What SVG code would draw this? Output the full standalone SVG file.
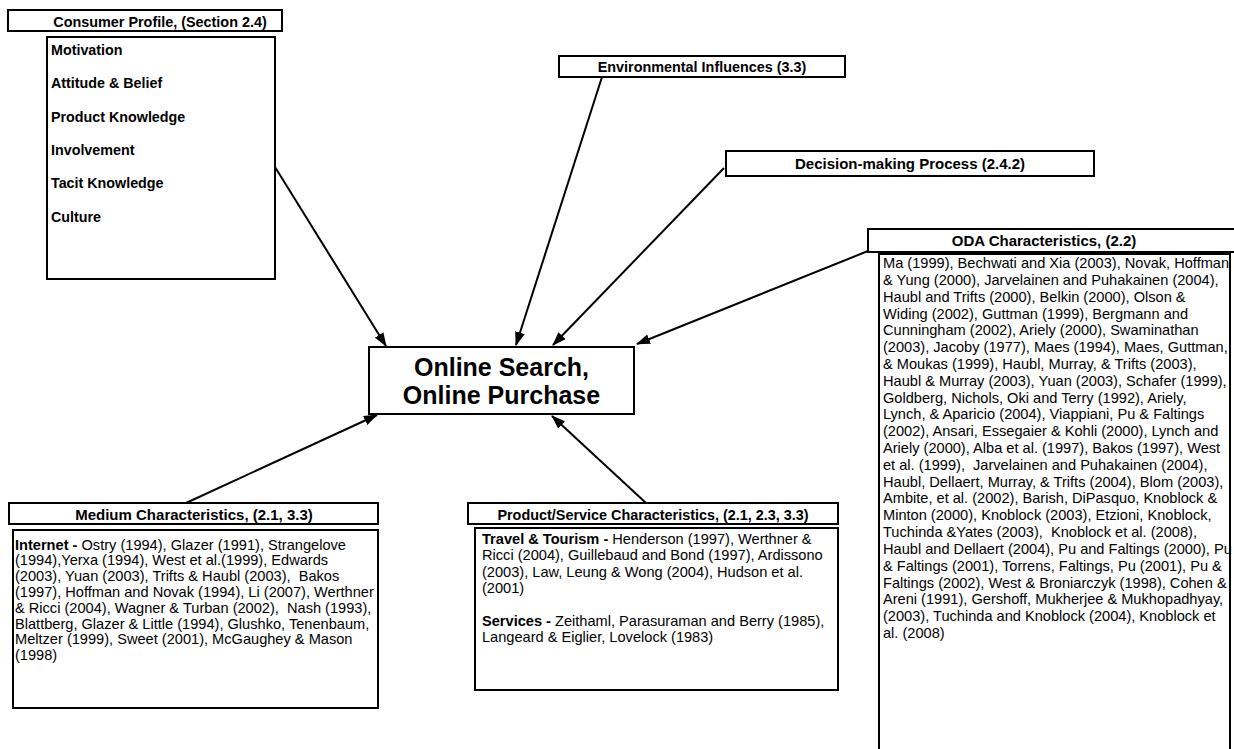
<svg xmlns="http://www.w3.org/2000/svg" width="1234" height="749" viewBox="0 0 1234 749">
<style>
.box{fill:#fff;stroke:#000;stroke-width:2}
.hd{font-family:"Liberation Sans",Arial,sans-serif;font-weight:bold;font-size:14.4px;fill:#000}
.it{font-family:"Liberation Sans",Arial,sans-serif;font-weight:bold;font-size:14.3px;fill:#000}
.tx{font-family:"Liberation Sans",Arial,sans-serif;font-size:14.6px;fill:#000}
.b{font-weight:bold}
.title{font-family:"Liberation Sans",Arial,sans-serif;font-weight:bold;font-size:25px;fill:#000}
.conn line{stroke:#000;stroke-width:2;marker-end:url(#ah)}
</style>
<defs>
<marker id="ah" viewBox="0 0 14 10" refX="13" refY="5" markerWidth="14" markerHeight="10" markerUnits="userSpaceOnUse" orient="auto">
<path d="M0,0 L14,5 L0,10 z" fill="#000"/>
</marker>
</defs>
<rect width="1234" height="749" fill="#fff"/>

<g id="consumer-profile">
<rect class="box" x="8" y="10" width="274" height="21"/>
<text class="hd" x="160" y="26.5" text-anchor="middle">Consumer Profile, (Section 2.4)</text>
<rect class="box" x="47" y="37" width="228" height="242"/>
<text class="it" x="51" y="55">Motivation</text>
<text class="it" x="51" y="88.3">Attitude &amp; Belief</text>
<text class="it" x="51" y="121.7">Product Knowledge</text>
<text class="it" x="51" y="155">Involvement</text>
<text class="it" x="51" y="188.3">Tacit Knowledge</text>
<text class="it" x="51" y="221.7">Culture</text>
</g>

<g id="environmental-influences">
<rect class="box" x="559" y="56" width="286" height="21"/>
<text class="hd" x="702" y="72" text-anchor="middle">Environmental Influences (3.3)</text>
</g>

<g id="decision-making-process">
<rect class="box" x="726" y="151" width="368" height="25"/>
<text class="hd" x="910" y="169" text-anchor="middle" style="font-size:15px">Decision-making Process (2.4.2)</text>
</g>

<g id="online-search">
<rect class="box" x="369" y="347" width="265" height="67"/>
<text class="title" x="501.5" y="376" text-anchor="middle">Online Search,</text>
<text class="title" x="501.5" y="404" text-anchor="middle">Online Purchase</text>
</g>

<g id="oda-characteristics">
<rect class="box" x="868" y="229" width="367" height="23"/>
<text class="hd" x="1044" y="246" text-anchor="middle" style="font-size:15px">ODA Characteristics, (2.2)</text>
<rect class="box" x="879" y="254" width="351" height="510"/>
<text class="tx" xml:space="preserve" x="883" y="268">Ma (1999), Bechwati and Xia (2003), Novak, Hoffman</text>
<text class="tx" xml:space="preserve" x="883" y="284.8">&amp; Yung (2000), Jarvelainen and Puhakainen (2004),</text>
<text class="tx" xml:space="preserve" x="883" y="301.6">Haubl and Trifts (2000), Belkin (2000), Olson &amp;</text>
<text class="tx" xml:space="preserve" x="883" y="318.5">Widing (2002), Guttman (1999), Bergmann and</text>
<text class="tx" xml:space="preserve" x="883" y="335.3">Cunningham (2002), Ariely (2000), Swaminathan</text>
<text class="tx" xml:space="preserve" x="883" y="352.1">(2003), Jacoby (1977), Maes (1994), Maes, Guttman,</text>
<text class="tx" xml:space="preserve" x="883" y="368.9">&amp; Moukas (1999), Haubl, Murray, &amp; Trifts (2003),</text>
<text class="tx" xml:space="preserve" x="883" y="385.7">Haubl &amp; Murray (2003), Yuan (2003), Schafer (1999),</text>
<text class="tx" xml:space="preserve" x="883" y="402.5">Goldberg, Nichols, Oki and Terry (1992), Ariely,</text>
<text class="tx" xml:space="preserve" x="883" y="419.4">Lynch, &amp; Aparicio (2004), Viappiani, Pu &amp; Faltings</text>
<text class="tx" xml:space="preserve" x="883" y="436.2">(2002), Ansari, Essegaier &amp; Kohli (2000), Lynch and</text>
<text class="tx" xml:space="preserve" x="883" y="453">Ariely (2000), Alba et al. (1997), Bakos (1997), West</text>
<text class="tx" xml:space="preserve" x="883" y="469.8">et al. (1999),  Jarvelainen and Puhakainen (2004),</text>
<text class="tx" xml:space="preserve" x="883" y="486.6">Haubl, Dellaert, Murray, &amp; Trifts (2004), Blom (2003),</text>
<text class="tx" xml:space="preserve" x="883" y="503.4">Ambite, et al. (2002), Barish, DiPasquo, Knoblock &amp;</text>
<text class="tx" xml:space="preserve" x="883" y="520.3">Minton (2000), Knoblock (2003), Etzioni, Knoblock,</text>
<text class="tx" xml:space="preserve" x="883" y="537.1">Tuchinda &amp;Yates (2003),  Knoblock et al. (2008),</text>
<text class="tx" xml:space="preserve" x="883" y="553.9">Haubl and Dellaert (2004), Pu and Faltings (2000), Pu</text>
<text class="tx" xml:space="preserve" x="883" y="570.7">&amp; Faltings (2001), Torrens, Faltings, Pu (2001), Pu &amp;</text>
<text class="tx" xml:space="preserve" x="883" y="587.5">Faltings (2002), West &amp; Broniarczyk (1998), Cohen &amp;</text>
<text class="tx" xml:space="preserve" x="883" y="604.3">Areni (1991), Gershoff, Mukherjee &amp; Mukhopadhyay,</text>
<text class="tx" xml:space="preserve" x="883" y="621.2">(2003), Tuchinda and Knoblock (2004), Knoblock et</text>
<text class="tx" xml:space="preserve" x="883" y="638">al. (2008)</text>
</g>

<g id="medium-characteristics">
<rect class="box" x="9" y="503" width="369" height="21"/>
<text class="hd" x="194" y="519.5" text-anchor="middle" style="font-size:15px">Medium Characteristics, (2.1, 3.3)</text>
<rect class="box" x="13" y="530" width="365" height="178"/>
<text class="tx" xml:space="preserve" x="15" y="549.5"><tspan class="b">Internet -</tspan> Ostry (1994), Glazer (1991), Strangelove</text>
<text class="tx" xml:space="preserve" x="15" y="565.3">(1994),Yerxa (1994), West et al.(1999), Edwards</text>
<text class="tx" xml:space="preserve" x="15" y="581.1">(2003), Yuan (2003), Trifts &amp; Haubl (2003),  Bakos</text>
<text class="tx" xml:space="preserve" x="15" y="596.9">(1997), Hoffman and Novak (1994), Li (2007), Werthner</text>
<text class="tx" xml:space="preserve" x="15" y="612.7">&amp; Ricci (2004), Wagner &amp; Turban (2002),  Nash (1993),</text>
<text class="tx" xml:space="preserve" x="15" y="628.5">Blattberg, Glazer &amp; Little (1994), Glushko, Tenenbaum,</text>
<text class="tx" xml:space="preserve" x="15" y="644.3">Meltzer (1999), Sweet (2001), McGaughey &amp; Mason</text>
<text class="tx" xml:space="preserve" x="15" y="660.1">(1998)</text>
</g>

<g id="product-service-characteristics">
<rect class="box" x="468" y="503" width="370" height="21"/>
<text class="hd" x="653" y="519.5" text-anchor="middle">Product/Service Characteristics, (2.1, 2.3, 3.3)</text>
<rect class="box" x="475" y="528" width="363" height="162"/>
<text class="tx" xml:space="preserve" x="482" y="544"><tspan class="b">Travel &amp; Tourism -</tspan> Henderson (1997), Werthner &amp;</text>
<text class="tx" xml:space="preserve" x="482" y="560.4">Ricci (2004), Guillebaud and Bond (1997), Ardissono</text>
<text class="tx" xml:space="preserve" x="482" y="576.8">(2003), Law, Leung &amp; Wong (2004), Hudson et al.</text>
<text class="tx" xml:space="preserve" x="482" y="593.2">(2001)</text>
<text class="tx" xml:space="preserve" x="482" y="626"><tspan class="b">Services -</tspan> Zeithaml, Parasuraman and Berry (1985),</text>
<text class="tx" xml:space="preserve" x="482" y="642.4">Langeard &amp; Eiglier, Lovelock (1983)</text>
</g>

<g id="connectors" class="conn">
<line x1="275" y1="167" x2="386" y2="346"/>
<line x1="602" y1="77" x2="516" y2="345"/>
<line x1="724" y1="168" x2="553" y2="345"/>
<line x1="868" y1="251" x2="637" y2="344"/>
<line x1="186" y1="503" x2="377" y2="415"/>
<line x1="646" y1="503" x2="552" y2="416"/>
</g>
</svg>
